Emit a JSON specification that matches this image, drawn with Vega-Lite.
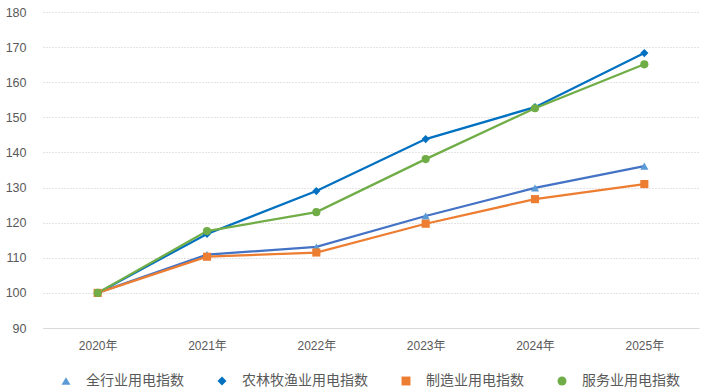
{
  "$schema": "https://vega.github.io/schema/vega-lite/v6.json",
  "autosize": "none",
  "width": 656,
  "height": 316,
  "padding": {"left": 43, "top": 12, "right": 9, "bottom": 64},
  "background": "white",
  "data": {
    "values": [
      {"year": "2020年", "series": "全行业用电指数", "value": 100},
      {"year": "2021年", "series": "全行业用电指数", "value": 110.9},
      {"year": "2022年", "series": "全行业用电指数", "value": 113.1},
      {"year": "2023年", "series": "全行业用电指数", "value": 121.9},
      {"year": "2024年", "series": "全行业用电指数", "value": 129.9},
      {"year": "2025年", "series": "全行业用电指数", "value": 136.1},
      {"year": "2020年", "series": "农林牧渔业用电指数", "value": 100},
      {"year": "2021年", "series": "农林牧渔业用电指数", "value": 116.8},
      {"year": "2022年", "series": "农林牧渔业用电指数", "value": 129.0},
      {"year": "2023年", "series": "农林牧渔业用电指数", "value": 143.8},
      {"year": "2024年", "series": "农林牧渔业用电指数", "value": 152.9},
      {"year": "2025年", "series": "农林牧渔业用电指数", "value": 168.3},
      {"year": "2020年", "series": "制造业用电指数", "value": 100},
      {"year": "2021年", "series": "制造业用电指数", "value": 110.3},
      {"year": "2022年", "series": "制造业用电指数", "value": 111.5},
      {"year": "2023年", "series": "制造业用电指数", "value": 119.7},
      {"year": "2024年", "series": "制造业用电指数", "value": 126.7},
      {"year": "2025年", "series": "制造业用电指数", "value": 131.0},
      {"year": "2020年", "series": "服务业用电指数", "value": 100},
      {"year": "2021年", "series": "服务业用电指数", "value": 117.6},
      {"year": "2022年", "series": "服务业用电指数", "value": 123.0},
      {"year": "2023年", "series": "服务业用电指数", "value": 138.1},
      {"year": "2024年", "series": "服务业用电指数", "value": 152.6},
      {"year": "2025年", "series": "服务业用电指数", "value": 165.1}
    ]
  },
  "encoding": {
    "x": {
      "field": "year", "type": "ordinal",
      "scale": {"type": "point", "padding": 0.5},
      "axis": {
        "title": null, "labelAngle": 0, "ticks": false,
        "domain": true, "domainColor": "#D9D9D9", "domainWidth": 1,
        "labelFont": "Liberation Sans, Noto Sans CJK SC", "labelFontSize": 12,
        "labelColor": "#595959", "labelPadding": 12, "grid": false
      }
    },
    "y": {
      "field": "value", "type": "quantitative",
      "scale": {"domain": [90, 180], "nice": false, "zero": false},
      "axis": {
        "title": null, "values": [90, 100, 110, 120, 130, 140, 150, 160, 170, 180],
        "ticks": false, "domain": false,
        "grid": true, "gridColor": "#C8C8C8", "gridDash": [1, 2], "gridWidth": 1,
        "labelFont": "Liberation Sans", "labelFontSize": 12.5,
        "labelColor": "#595959", "labelPadding": 17
      }
    }
  },
  "layer": [
    {
      "mark": {"type": "line", "strokeWidth": 2.25},
      "encoding": {
        "stroke": {
          "field": "series", "type": "nominal",
          "scale": {
            "range": ["#4472C4", "#0070C0", "#ED7D31", "#70AD47"]
          },
          "legend": null
        }
      }
    },
    {
      "mark": {"type": "point", "filled": true, "opacity": 1, "size": 66},
      "encoding": {
        "color": {
          "field": "series", "type": "nominal",
          "scale": {
            "domain": ["全行业用电指数", "农林牧渔业用电指数", "制造业用电指数", "服务业用电指数"],
            "range": ["#5B9BD5", "#0070C0", "#ED7D31", "#70AD47"]
          },
          "legend": {
            "title": null, "orient": "none", "direction": "horizontal",
            "legendX": 16, "legendY": 362,
            "symbolSize": 80, "symbolStrokeWidth": 0, "symbolOpacity": 1,
            "labelFont": "Noto Sans CJK SC", "labelFontSize": 14, "labelColor": "#595959",
            "labelOffset": 13, "columnPadding": 31
          }
        },
        "shape": {
          "field": "series", "type": "nominal",
          "scale": {
            "domain": ["全行业用电指数", "农林牧渔业用电指数", "制造业用电指数", "服务业用电指数"],
            "range": ["triangle-up", "diamond", "square", "circle"]
          }
        }
      }
    }
  ],
  "config": {"view": {"stroke": null}}
}
